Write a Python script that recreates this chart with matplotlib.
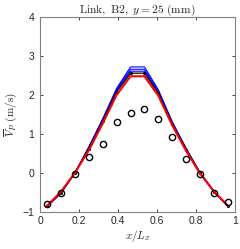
import numpy as np
import matplotlib
matplotlib.use("Agg")
import matplotlib.pyplot as plt

plt.rcParams['mathtext.fontset'] = 'cm'
plt.rcParams['font.family'] = ['Liberation Sans', 'DejaVu Sans']

x = [(i + 0.5) / 14 for i in range(14)]
exp_vals = [-0.80, -0.50, -0.03, 0.40, 0.74, 1.32, 1.55, 1.64, 1.38, 0.93, 0.36, -0.03, -0.50, -0.75]
black_vals = [-0.84, -0.50, 0.00, 0.62, 1.33, 2.08, 2.56, 2.56, 2.04, 1.26, 0.60, 0.00, -0.48, -0.84]
blue1_vals = [-0.86, -0.52, 0.00, 0.67, 1.39, 2.17, 2.72, 2.72, 2.13, 1.31, 0.63, 0.00, -0.48, -0.86]
blue2_vals = [-0.86, -0.52, 0.00, 0.65, 1.37, 2.14, 2.66, 2.66, 2.10, 1.29, 0.61, 0.00, -0.48, -0.86]
blue3_vals = [-0.86, -0.52, 0.00, 0.64, 1.35, 2.11, 2.61, 2.61, 2.07, 1.28, 0.61, 0.00, -0.48, -0.86]
red_vals = [-0.84, -0.48, 0.00, 0.58, 1.27, 2.00, 2.48, 2.48, 1.98, 1.22, 0.56, -0.02, -0.48, -0.84]

fig = plt.figure(figsize=(2.4, 2.49), dpi=100)
ax = fig.add_axes([40/240, 37/249, 195/240, 195/249])

for v in (blue1_vals, blue2_vals, blue3_vals):
    ax.plot(x, v, color='#0000ff', lw=0.8)
ax.plot(x, black_vals, color='black', lw=0.9, marker='.', ms=2.5)
ax.plot(x, red_vals, color='#ff0000', lw=1.5)
ax.plot(x, exp_vals, 'o', mfc='none', mec='black', ms=4.5, mew=1.0)

ax.set_xlim(0, 1)
ax.set_ylim(-1, 4)
ax.set_xticks([0, 0.2, 0.4, 0.6, 0.8, 1])
ax.set_xticklabels(['0', '0.2', '0.4', '0.6', '0.8', '1'])
ax.set_yticks([-1, 0, 1, 2, 3, 4])
ax.tick_params(direction='in', top=True, right=True, length=2.5, width=0.6,
               labelsize=7.5, colors='#262626')
ax.tick_params(axis='y', pad=4)
ax.tick_params(axis='x', pad=3)
for s in ax.spines.values():
    s.set_color('#808080')
    s.set_linewidth(0.8)

ax.set_title(r'$\mathrm{Link,\ B2,}\ y=25\ \mathrm{(mm)}$', fontsize=8.3, pad=3, color='#262626')
ax.set_xlabel(r'$x/L_x$', fontsize=8, labelpad=1, color='#262626')
ax.set_ylabel(r'$\overline{V}_P\ \mathrm{(m/s)}$', fontsize=8, labelpad=2, color='#262626')

fig.savefig('out.png', dpi=100)
